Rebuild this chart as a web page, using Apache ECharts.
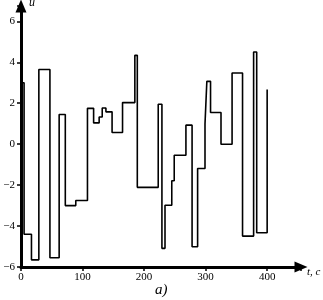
<!DOCTYPE html>
<html>
<head>
<meta charset="utf-8">
<script src="https://cdn.jsdelivr.net/npm/echarts@6/dist/echarts.min.js"></script>
<style>
  html, body { margin: 0; padding: 0; background: #fff; }
  #chart { width: 323px; height: 300px; }
</style>
</head>
<body>
<div id="chart"></div>
<script>
// switching instants t, c and the value u held from each instant to the next
const switchTimes = [0, 5, 17, 29, 47, 62, 72, 89, 108, 118, 127, 132, 138, 148, 165, 185, 189,
  223, 229, 234, 245, 249, 268, 278, 287, 299, 302, 308, 325, 343, 360, 378, 383, 400];
const levels = [3.0, -4.4, -5.65, 3.65, -5.55, 1.45, -3.0, -2.75, 1.75, 1.04, 1.33, 1.77, 1.58, 0.57, 2.03, 4.34, -2.11,
  1.95, -5.09, -2.98, -1.79, -0.54, 0.93, -5.01, -1.19, 0.98, 3.07, 1.55, 0.0, 3.48, -4.49, 4.5, -4.33, 2.67];
const xTicks = [0, 100, 200, 300, 400];
const yTicks = [-6, -4, -2, 0, 2, 4, 6];

const chart = echarts.init(document.getElementById('chart'), null, { renderer: 'canvas' });

const serif = 'Liberation Serif';

const option = {
  backgroundColor: '#fff',
  animation: false,
  grid: { left: 21, right: 22, top: 6, bottom: 33, containLabel: false },
  xAxis: {
    type: 'value',
    min: 0,
    max: 455,
    interval: 100,
    splitLine: { show: false },
    axisLine: {
      onZero: false,
      lineStyle: { color: '#000', width: 3 },
      symbol: ['none', 'triangle'],
      symbolSize: [11, 13]
    },
    axisTick: { show: true, length: 4, lineStyle: { color: '#000', width: 1.5 } },
    axisLabel: {
      color: '#000', fontFamily: serif, fontSize: 11, margin: 5,
      formatter: v => (xTicks.includes(v) ? String(v) : '')
    }
  },
  yAxis: {
    type: 'value',
    min: -6,
    max: 6.75,
    interval: 2,
    splitLine: { show: false },
    axisLine: {
      onZero: false,
      lineStyle: { color: '#000', width: 3 },
      symbol: ['none', 'triangle'],
      symbolSize: [11, 13]
    },
    axisTick: { show: true, length: 4, lineStyle: { color: '#000', width: 1.5 } },
    axisLabel: {
      color: '#000', fontFamily: serif, fontSize: 11, margin: 6,
      formatter: v => (yTicks.includes(v) ? String(v).replace('-', '\u2212') : '')
    }
  },
  series: [{
    type: 'line',
    step: 'end',
    showSymbol: false,
    data: switchTimes.map((t, i) => [t, levels[i]]),
    lineStyle: { color: '#000', width: 1.6 }
  }],
  graphic: [
    { type: 'text', left: 29, top: -3, style: { text: 'u', font: 'italic 12px "Liberation Serif"', fill: '#000' } },
    { type: 'text', left: 307, top: 267, style: { text: 't, c', font: 'italic 11px "Liberation Serif"', fill: '#000' } },
    { type: 'text', left: 155, top: 283, style: { text: 'a)', font: 'italic 15px "Liberation Serif"', fill: '#000' } }
  ]
};

chart.setOption(option);
</script>
</body>
</html>
